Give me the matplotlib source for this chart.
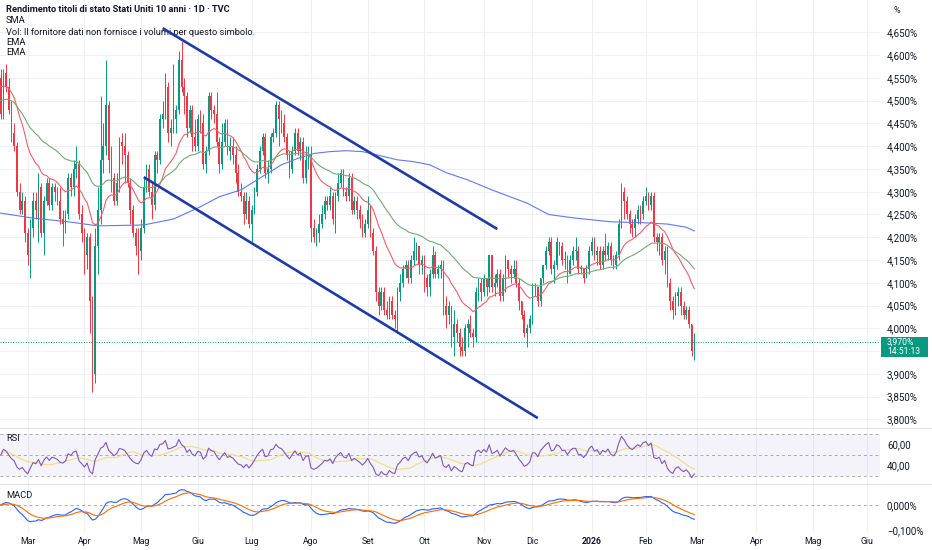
import numpy as np
import pandas as pd
import matplotlib
matplotlib.use("Agg")
import matplotlib.pyplot as plt
import matplotlib.transforms as mtransforms
from matplotlib.patches import Rectangle
from matplotlib.lines import Line2D

plt.rcParams['font.family'] = ['Roboto', 'DejaVu Sans']

# --- US 10Y yield, daily bars (values in hundredths of a percent) ---
holidays = ['2025-02-17', '2025-04-18', '2025-05-26', '2025-06-19', '2025-07-04',
            '2025-09-01', '2025-10-13', '2025-11-11', '2025-11-27', '2025-12-25',
            '2026-01-01', '2026-01-19', '2026-02-16', '2026-04-03', '2026-05-25']

opens = [
    455, 447, 456, 453, 448, 443, 440, 430, 426, 428,                                  # feb 25
    421, 416, 422, 428, 426, 431, 421, 428, 432, 427, 431, 430, 428, 424, 423, 425, 433, 431, 435, 436, 425,  # mar
    421, 416, 420, 406, 390, 418, 426, 437, 440, 449, 437, 433, 428, 432, 441, 440, 438, 432, 426, 421, 418,  # apr
    417, 422, 431, 435, 430, 427, 438, 437, 446, 447, 453, 443, 444, 446, 448, 459, 453, 451, 444, 448, 442,  # may
    440, 446, 445, 436, 439, 451, 448, 447, 441, 436, 441, 445, 439, 440, 438, 434, 430, 429, 425, 428,       # jun
    423, 426, 430, 435, 439, 442, 434, 435, 442, 443, 449, 446, 445, 442, 438, 435, 439, 443, 439, 441, 433, 437,  # jul
    438, 422, 420, 421, 423, 425, 428, 427, 429, 424, 429, 432, 434, 430, 429, 433, 426, 428, 426, 424, 421,  # aug
    423, 426, 421, 417, 408, 405, 408, 404, 403, 406, 403, 402, 408, 410, 413, 414, 411, 415, 417, 418, 414,  # sep
    415, 411, 409, 412, 416, 412, 413, 414, 405, 403, 405, 398, 401, 399, 396, 395, 400, 401, 399, 398, 408, 410,  # oct
    408, 411, 409, 416, 409, 410, 412, 407, 411, 415, 413, 412, 413, 410, 406, 403, 399, 400,                # nov
    402, 409, 409, 406, 411, 414, 417, 419, 413, 414, 419, 418, 415, 415, 412, 415, 417, 417, 413, 413, 411, 413,  # dec
    417, 419, 416, 417, 414, 417, 416, 418, 415, 414, 416, 423, 430, 428, 425, 423, 422, 424, 426, 425,       # jan 26
    428, 429, 427, 429, 420, 419, 420, 415, 417, 410, 406, 404, 407, 408, 405, 403, 404, 401, 395,            # feb 26
]
highs = [
    457, 457, 458, 455, 450, 445, 441, 432, 430, 429,
    422, 424, 430, 430, 434, 432, 429, 433, 433, 432, 432, 431, 431, 426, 426, 434, 434, 437, 440, 437, 427,
    422, 421, 421, 407, 422, 431, 451, 445, 459, 450, 440, 434, 434, 442, 443, 443, 439, 433, 427, 422, 422,
    424, 433, 436, 436, 432, 439, 439, 447, 450, 456, 454, 446, 458, 449, 461, 463, 455, 452, 449, 449, 446,
    447, 448, 447, 440, 452, 452, 449, 452, 442, 445, 446, 446, 442, 442, 440, 436, 432, 430, 430, 429,
    427, 431, 436, 440, 443, 443, 437, 443, 444, 450, 450, 448, 447, 443, 439, 440, 444, 444, 442, 442, 440, 440,
    440, 424, 422, 425, 427, 429, 429, 431, 430, 430, 434, 435, 435, 431, 434, 434, 429, 429, 427, 425, 424,
    429, 427, 422, 418, 409, 409, 409, 406, 407, 407, 404, 409, 412, 414, 415, 415, 416, 420, 419, 418, 416,
    416, 412, 413, 418, 417, 414, 415, 415, 407, 406, 405, 404, 402, 400, 398, 401, 402, 403, 400, 409, 411, 411,
    412, 411, 416, 416, 412, 413, 413, 412, 416, 415, 414, 415, 415, 411, 406, 404, 401, 403,
    410, 410, 409, 411, 414, 418, 420, 420, 415, 420, 419, 419, 417, 416, 416, 418, 420, 418, 414, 413, 414, 418,
    420, 420, 418, 418, 418, 421, 419, 419, 416, 417, 424, 432, 431, 429, 426, 424, 425, 427, 427, 429,
    431, 430, 430, 430, 421, 421, 421, 418, 418, 411, 407, 408, 409, 409, 406, 405, 405, 401, 399,
]
lows = [
    446, 446, 452, 447, 441, 439, 429, 425, 425, 419,
    414, 411, 420, 424, 419, 420, 416, 427, 426, 426, 428, 427, 423, 418, 421, 424, 429, 429, 433, 424, 419,
    412, 413, 399, 386, 388, 412, 423, 434, 438, 434, 430, 427, 427, 430, 436, 432, 431, 423, 420, 416, 412,
    415, 421, 430, 429, 424, 426, 434, 436, 444, 446, 441, 440, 443, 443, 447, 452, 447, 442, 443, 439, 439,
    439, 443, 435, 434, 438, 446, 445, 440, 434, 435, 440, 438, 437, 436, 432, 429, 428, 423, 424, 422,
    419, 425, 429, 434, 438, 433, 432, 434, 441, 442, 440, 443, 441, 437, 433, 434, 438, 438, 437, 432, 432, 435,
    419, 419, 418, 419, 422, 424, 426, 426, 423, 421, 428, 431, 429, 428, 428, 425, 425, 424, 422, 420, 420,
    422, 420, 416, 406, 403, 404, 403, 402, 402, 402, 400, 399, 406, 409, 411, 410, 410, 414, 415, 412, 412,
    408, 407, 407, 411, 411, 411, 411, 403, 400, 401, 396, 394, 397, 394, 394, 394, 396, 398, 396, 397, 406, 406,
    407, 407, 408, 408, 407, 409, 406, 406, 408, 411, 410, 411, 409, 404, 402, 398, 396, 399,
    401, 407, 405, 405, 410, 413, 416, 412, 410, 413, 416, 414, 413, 410, 412, 414, 415, 412, 412, 410, 411, 412,
    416, 415, 414, 413, 413, 415, 415, 414, 413, 413, 415, 422, 424, 424, 421, 420, 420, 423, 423, 424,
    427, 426, 426, 419, 417, 416, 414, 412, 409, 404, 402, 403, 405, 403, 402, 402, 400, 394, 393,
]
closes = [
    447, 455, 453, 448, 443, 440, 430, 426, 428, 421,
    416, 422, 428, 426, 431, 421, 428, 432, 427, 431, 430, 428, 424, 423, 425, 433, 431, 435, 436, 425, 421,
    416, 420, 406, 401, 418, 426, 437, 440, 449, 437, 433, 428, 432, 441, 440, 438, 432, 426, 421, 418, 417,
    422, 431, 435, 430, 427, 438, 437, 446, 447, 453, 443, 444, 446, 448, 459, 453, 451, 444, 448, 442, 440,
    446, 445, 436, 439, 451, 448, 447, 441, 436, 441, 445, 439, 440, 438, 434, 430, 429, 425, 428, 423,
    426, 430, 435, 439, 442, 434, 435, 442, 443, 449, 446, 445, 442, 438, 435, 439, 443, 439, 441, 433, 437, 438,
    422, 420, 421, 423, 425, 428, 427, 429, 424, 429, 432, 434, 430, 429, 433, 426, 428, 426, 424, 421, 423,
    426, 421, 417, 408, 405, 408, 404, 403, 406, 403, 402, 408, 410, 413, 414, 411, 415, 417, 418, 414, 415,
    411, 409, 412, 416, 412, 413, 414, 405, 403, 405, 398, 401, 399, 396, 395, 400, 401, 399, 398, 408, 410, 408,
    411, 409, 416, 409, 410, 412, 407, 411, 415, 413, 412, 413, 410, 406, 403, 399, 400, 402,
    409, 409, 406, 411, 414, 417, 419, 413, 414, 419, 418, 415, 415, 412, 415, 417, 417, 413, 413, 411, 413, 417,
    419, 416, 417, 414, 417, 416, 418, 415, 414, 416, 423, 430, 428, 425, 423, 422, 424, 426, 425, 428,
    429, 427, 429, 420, 419, 420, 415, 417, 410, 406, 404, 407, 408, 405, 403, 404, 401, 395, 397,
]

# SMA line (bar number, level %)
sma_bar = [0, 12, 25, 36, 53, 64, 74, 81, 89, 95, 104, 110, 116, 122, 128, 134, 140, 147,
           153, 159, 165, 173, 182, 195, 203, 213, 226, 238, 247, 254, 257]
sma_val = [4.253, 4.242, 4.234, 4.225, 4.227, 4.240, 4.267, 4.289, 4.304, 4.326, 4.359, 4.373,
           4.384, 4.388, 4.390, 4.388, 4.380, 4.370, 4.366, 4.359, 4.342, 4.326, 4.304, 4.275,
           4.250, 4.242, 4.234, 4.232, 4.229, 4.222, 4.214]
ema_fast_start, ema_slow_start = 4.53, 4.50
rsi_seed = 0.025

# hand-drawn channel
upper_dates, upper_vals = ['2025-05-13', '2025-11-10'], [4.659, 4.218]
lower_dates, lower_vals = ['2025-05-02', '2025-12-03'], [4.332, 3.803]

month_labels = ['Mar', 'Apr', 'Mag', 'Giu', 'Lug', 'Ago', 'Set', 'Ott', 'Nov', 'Dic',
                '2026', 'Feb', 'Mar', 'Apr', 'Mag', 'Giu']
last_price, last_time = 3.970, '14:51:13'

o = np.array(opens) / 100
h = np.array(highs) / 100
l = np.array(lows) / 100
c = np.array(closes) / 100
n = len(c)
cal = pd.bdate_range('2025-02-14', '2026-06-30', freq='C', holidays=holidays)
dates = cal[:n]
x = np.arange(n)

# month ticks = first trading day of each month
first_idx = pd.Series(np.arange(len(cal)), index=cal).groupby([cal.year, cal.month]).first()
tick_pos = first_idx.values[1:1 + len(month_labels)]


def ema(v, span, start):
    a = 2 / (span + 1)
    out = np.empty(len(v))
    out[0] = start
    for i in range(1, len(v)):
        out[i] = out[i - 1] + a * (v[i] - out[i - 1])
    return out


ema20 = ema(c, 20, ema_fast_start)
ema50 = ema(c, 50, ema_slow_start)

cs = pd.Series(c)
macd = cs.ewm(span=12, adjust=False).mean() - cs.ewm(span=26, adjust=False).mean()
signal = macd.ewm(span=9, adjust=False).mean()

d = np.diff(c, prepend=c[0])
gain, loss = np.clip(d, 0, None), np.clip(-d, 0, None)
ag, al = np.empty(n), np.empty(n)
ag[0] = al[0] = rsi_seed
for i in range(1, n):
    ag[i] = (ag[i - 1] * 13 + gain[i]) / 14
    al[i] = (al[i - 1] * 13 + loss[i]) / 14
rsi = 100 - 100 / (1 + ag / al)
rsi_ma = pd.Series(rsi).rolling(14, min_periods=1).mean()

# --- figure ---
W, H = 932, 550
fig = plt.figure(figsize=(W / 100, H / 100), dpi=100)
RIGHT = 880


def pane(top, bottom):
    return [0, 1 - bottom / H, RIGHT / W, (bottom - top) / H]


ax = fig.add_axes(pane(0, 427.7))
ax_rsi = fig.add_axes(pane(427.7, 484.3), sharex=ax)
ax_macd = fig.add_axes(pane(484.3, 533), sharex=ax)

txt = '#131722'
grid = '#eef0f5'
for a in (ax, ax_rsi, ax_macd):
    for s in a.spines.values():
        s.set_visible(False)
    a.yaxis.tick_right()
    a.tick_params(axis='y', length=0, pad=5, labelsize=7, labelcolor=txt)
    a.tick_params(axis='x', length=0)
    a.set_xticks(tick_pos)
    a.grid(axis='x', color=grid, lw=0.8)
    a.set_axisbelow(True)

ax.set_xlim(-0.26, RIGHT / 2.699 - 0.26)

# main pane
ax.set_ylim(3.7819, 4.7209)
yt = np.arange(3.80, 4.651, 0.05)
ax.set_yticks(yt)
# the 3,950% label sits under the last-price tag, so it stays blank
ax.set_yticklabels(['' if abs(v - 3.95) < 1e-6 else f'{v:.3f}'.replace('.', ',') + '%'
                    for v in yt])
ax.grid(axis='y', color=grid, lw=0.8)
ax.tick_params(axis='x', labelbottom=False)

col = np.where(c >= o, '#089981', '#f23645')
ax.vlines(x, l, h, colors=col, lw=0.7, zorder=2)
ax.bar(x, np.maximum(np.abs(c - o), 0.0015), bottom=np.minimum(o, c), width=0.62,
       color=col, linewidth=0, zorder=2)

ax.plot(sma_bar, sma_val, color='#5b7cf0', lw=0.8, zorder=3)
ax.plot(x, ema20, color='#f0606c', lw=0.8, zorder=3)
ax.plot(x, ema50, color='#74a874', lw=0.8, zorder=3)

for ds, vs in ((upper_dates, upper_vals), (lower_dates, lower_vals)):
    ax.plot(dates.get_indexer(pd.to_datetime(ds)), vs, color='#1f3aa6', lw=1.9,
            solid_capstyle='butt', zorder=5)

ax.axhline(last_price, color='#089981', lw=0.7, ls=(0, (1, 1.6)), zorder=1)
blend = mtransforms.blended_transform_factory(ax.transAxes, ax.transData)
ax.add_patch(Rectangle((1.001, 3.9378), 0.0534, 0.043, transform=blend,
                       facecolor='#089981', edgecolor='none', clip_on=False))
ax.text(1.008, 3.9591, f'{last_price:.3f}'.replace('.', ',') + '%\n' + last_time,
        transform=blend, color='white', fontsize=6.2, va='center', ha='left',
        linespacing=1.05)

# header
hdr = [('Rendimento titoli di stato Stati Uniti 10 anni · 1D · TVC', 10, 'bold'),
       ('SMA', 20.7, 'normal'),
       ('Vol: Il fornitore dati non fornisce i volumi per questo simbolo.', 32.3, 'normal'),
       ('EMA', 42.3, 'normal'),
       ('EMA', 52.7, 'normal')]
for s, yy, wt in hdr:
    ax.text(6 / W, 1 - yy / H, s, transform=fig.transFigure, fontsize=6.7, color=txt,
            va='center', ha='left', fontweight=wt, zorder=4)
fig.text(893 / W, 1 - 10.7 / H, '%', fontsize=6.5, color=txt, va='center', ha='left')

# RSI pane
ax_rsi.set_ylim(21.7, 76.4)
ax_rsi.set_yticks([60, 40])
ax_rsi.set_yticklabels(['60,00', '40,00'])
ax_rsi.tick_params(axis='x', labelbottom=False)
ax_rsi.axhspan(30, 70, color='#7e57c2', alpha=0.07, lw=0)
for lv in (70, 50, 30):
    ax_rsi.axhline(lv, color='#9598a1', lw=0.7, ls=(0, (3, 3)), alpha=0.8)
ax_rsi.plot(x, rsi_ma, color='#ede08f', lw=0.9)
ax_rsi.plot(x, rsi, color='#7e57c2', lw=0.8)
ax_rsi.text(6 / W, 1 - 438.3 / H, 'RSI', transform=fig.transFigure, fontsize=6.7,
            color=txt, va='center')

# MACD pane
ax_macd.set_ylim(-0.112, 0.0828)
ax_macd.set_yticks([0, -0.1])
ax_macd.set_yticklabels(['0,000%', '\u22120,100%'])
ax_macd.axhline(0, color='#9598a1', lw=0.7, ls=(0, (3, 3)), alpha=0.8)
ax_macd.plot(x, macd, color='#2962ff', lw=0.8)
ax_macd.plot(x, signal, color='#ff6d00', lw=0.8)
ax_macd.text(6 / W, 1 - 495.7 / H, 'MACD', transform=fig.transFigure, fontsize=6.7,
             color=txt, va='center')
ax_macd.set_xticklabels(month_labels)
ax_macd.tick_params(axis='x', labelsize=6.3, labelcolor=txt, pad=3)
for t in ax_macd.get_xticklabels():
    if t.get_text() == '2026':
        t.set_fontweight('bold')

for yy in (427.7, 484.3):
    fig.add_artist(Line2D([0, 1], [1 - yy / H] * 2, color='#e0e3eb', lw=0.8))

fig.savefig('out.png', dpi=100, facecolor='white')
